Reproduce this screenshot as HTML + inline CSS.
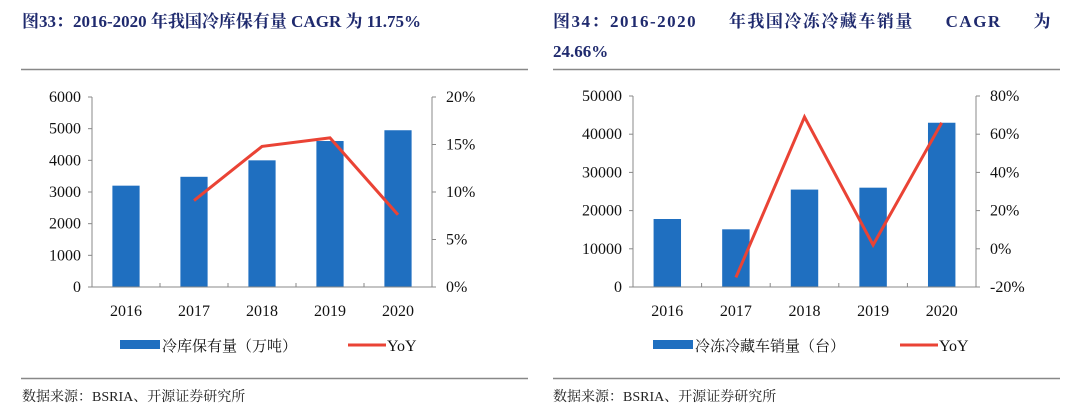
<!DOCTYPE html>
<html><head><meta charset="utf-8">
<style>
body{margin:0;background:#fff;width:1080px;height:413px;overflow:hidden}
svg text{font-family:"Liberation Serif","Noto Serif CJK SC",serif}
</style></head>
<body>
<svg id="s" width="1080" height="413" xmlns="http://www.w3.org/2000/svg">
<text x="22" y="27" font-size="17" font-weight="bold" fill="#1f2a6e">图33：2016-2020 年我国冷库保有量 CAGR 为 11.75%</text>
<text x="553" y="27" font-size="17" font-weight="bold" fill="#1f2a6e" word-spacing="26" letter-spacing="1.5">图34：2016-2020 年我国冷冻冷藏车销量 CAGR 为</text>
<text x="553" y="57" font-size="17" font-weight="bold" fill="#1f2a6e">24.66%</text>
<line x1="21" y1="69.5" x2="528" y2="69.5" stroke="#888" stroke-width="1.5"/>
<line x1="553" y1="69.5" x2="1060" y2="69.5" stroke="#888" stroke-width="1.5"/>
<line x1="21" y1="378.5" x2="528" y2="378.5" stroke="#888" stroke-width="1.5"/>
<line x1="553" y1="378.5" x2="1060" y2="378.5" stroke="#888" stroke-width="1.5"/>
<text x="22" y="401" font-size="14" fill="#222">数据来源：BSRIA、开源证券研究所</text>
<text x="553" y="401" font-size="14" fill="#222">数据来源：BSRIA、开源证券研究所</text>
</svg>
<script>
const years=["2016","2017","2018","2019","2020"];
const barsA=[3200,3480,4000,4610,4950];
const yoyA=[null,9.1,14.8,15.7,7.6];
const leftTicksA=[0,1000,2000,3000,4000,5000,6000];
const rightTicksA=[0,5,10,15,20];
const barsB=[17800,15100,25500,26000,43000];
const yoyB=[null,-15,69,2,66];
const leftTicksB=[0,10000,20000,30000,40000,50000];
const rightTicksB=[-20,0,20,40,60,80];
const NS="http://www.w3.org/2000/svg";
const svg=document.getElementById('s');
function mk(t,a,txt){const e=document.createElementNS(NS,t);for(const k in a)e.setAttribute(k,a[k]);if(txt!=null)e.textContent=txt;svg.appendChild(e);return e;}
function chart(cfg){
  const {x0,x1,yTop,yBot,lmin,lmax,rmin,rmax,bars,yoy,lt,rt,legBar,legX,lineX,p}=cfg;
  const ly=v=>yBot-(v-lmin)/(lmax-lmin)*(yBot-yTop);
  const ry=v=>yBot-(v-rmin)/(rmax-rmin)*(yBot-yTop);
  const band=(x1-x0)/years.length;
  const cx=i=>x0+band*(i+0.5);
  const bw=band*0.4;
  bars.forEach((v,i)=>{const r=mk('rect',{x:cx(i)-bw/2,y:ly(v),width:bw,height:yBot-ly(v),fill:'#1f6fc0'});
    
    });
  let a=mk('line',{x1:x0,y1:yTop,x2:x0,y2:yBot,stroke:'#888'});
  
  a=mk('line',{x1:x1,y1:yTop,x2:x1,y2:yBot,stroke:'#888'});
  
  a=mk('line',{x1:x0,y1:yBot,x2:x1,y2:yBot,stroke:'#888'});
  
  lt.forEach(v=>{mk('line',{x1:x0-4,y1:ly(v),x2:x0,y2:ly(v),stroke:'#888'});
    const t=mk('text',{x:x0-11,y:ly(v)+5,'font-size':16,'text-anchor':'end',fill:'#111'},String(v));
    });
  rt.forEach(v=>{mk('line',{x1:x1,y1:ry(v),x2:x1+4,y2:ry(v),stroke:'#888'});
    const t=mk('text',{x:x1+14,y:ry(v)+5,'font-size':16,fill:'#111'},v+'%');
    });
  for(let i=1;i<years.length;i++)mk('line',{x1:x0+band*i,y1:yBot,x2:x0+band*i,y2:yBot-4,stroke:'#888'});
  years.forEach((y,i)=>{const t=mk('text',{x:cx(i),y:yBot+29,'font-size':16,'text-anchor':'middle',fill:'#111'},y);
    });
  const pts=[];yoy.forEach((v,i)=>{if(v!=null)pts.push(cx(i)+','+ry(v));});
  const pl=mk('polyline',{points:pts.join(' '),fill:'none',stroke:'#ea4335','stroke-width':3});
  
  const lr=mk('rect',{x:legX,y:340,width:40,height:9,fill:'#1f6fc0'});
  
  const lt1=mk('text',{x:legX+42,y:351,'font-size':15,fill:'#111'},legBar);
  
  const ll=mk('line',{x1:lineX,y1:345,x2:lineX+38,y2:345,stroke:'#ea4335','stroke-width':3});
  
  const lt2=mk('text',{x:lineX+39,y:351,'font-size':16,fill:'#111'},'YoY');
  
}
chart({x0:92,x1:432,yTop:97,yBot:287,lmin:0,lmax:6000,rmin:0,rmax:20,bars:barsA,yoy:yoyA,lt:leftTicksA,rt:rightTicksA,legBar:'冷库保有量（万吨）',legX:120,lineX:348,p:'cold-storage'});
chart({x0:633,x1:976,yTop:96,yBot:287,lmin:0,lmax:50000,rmin:-20,rmax:80,bars:barsB,yoy:yoyB,lt:leftTicksB,rt:rightTicksB,legBar:'冷冻冷藏车销量（台）',legX:653,lineX:900,p:'reefer-truck'});
</script>
</body></html>
